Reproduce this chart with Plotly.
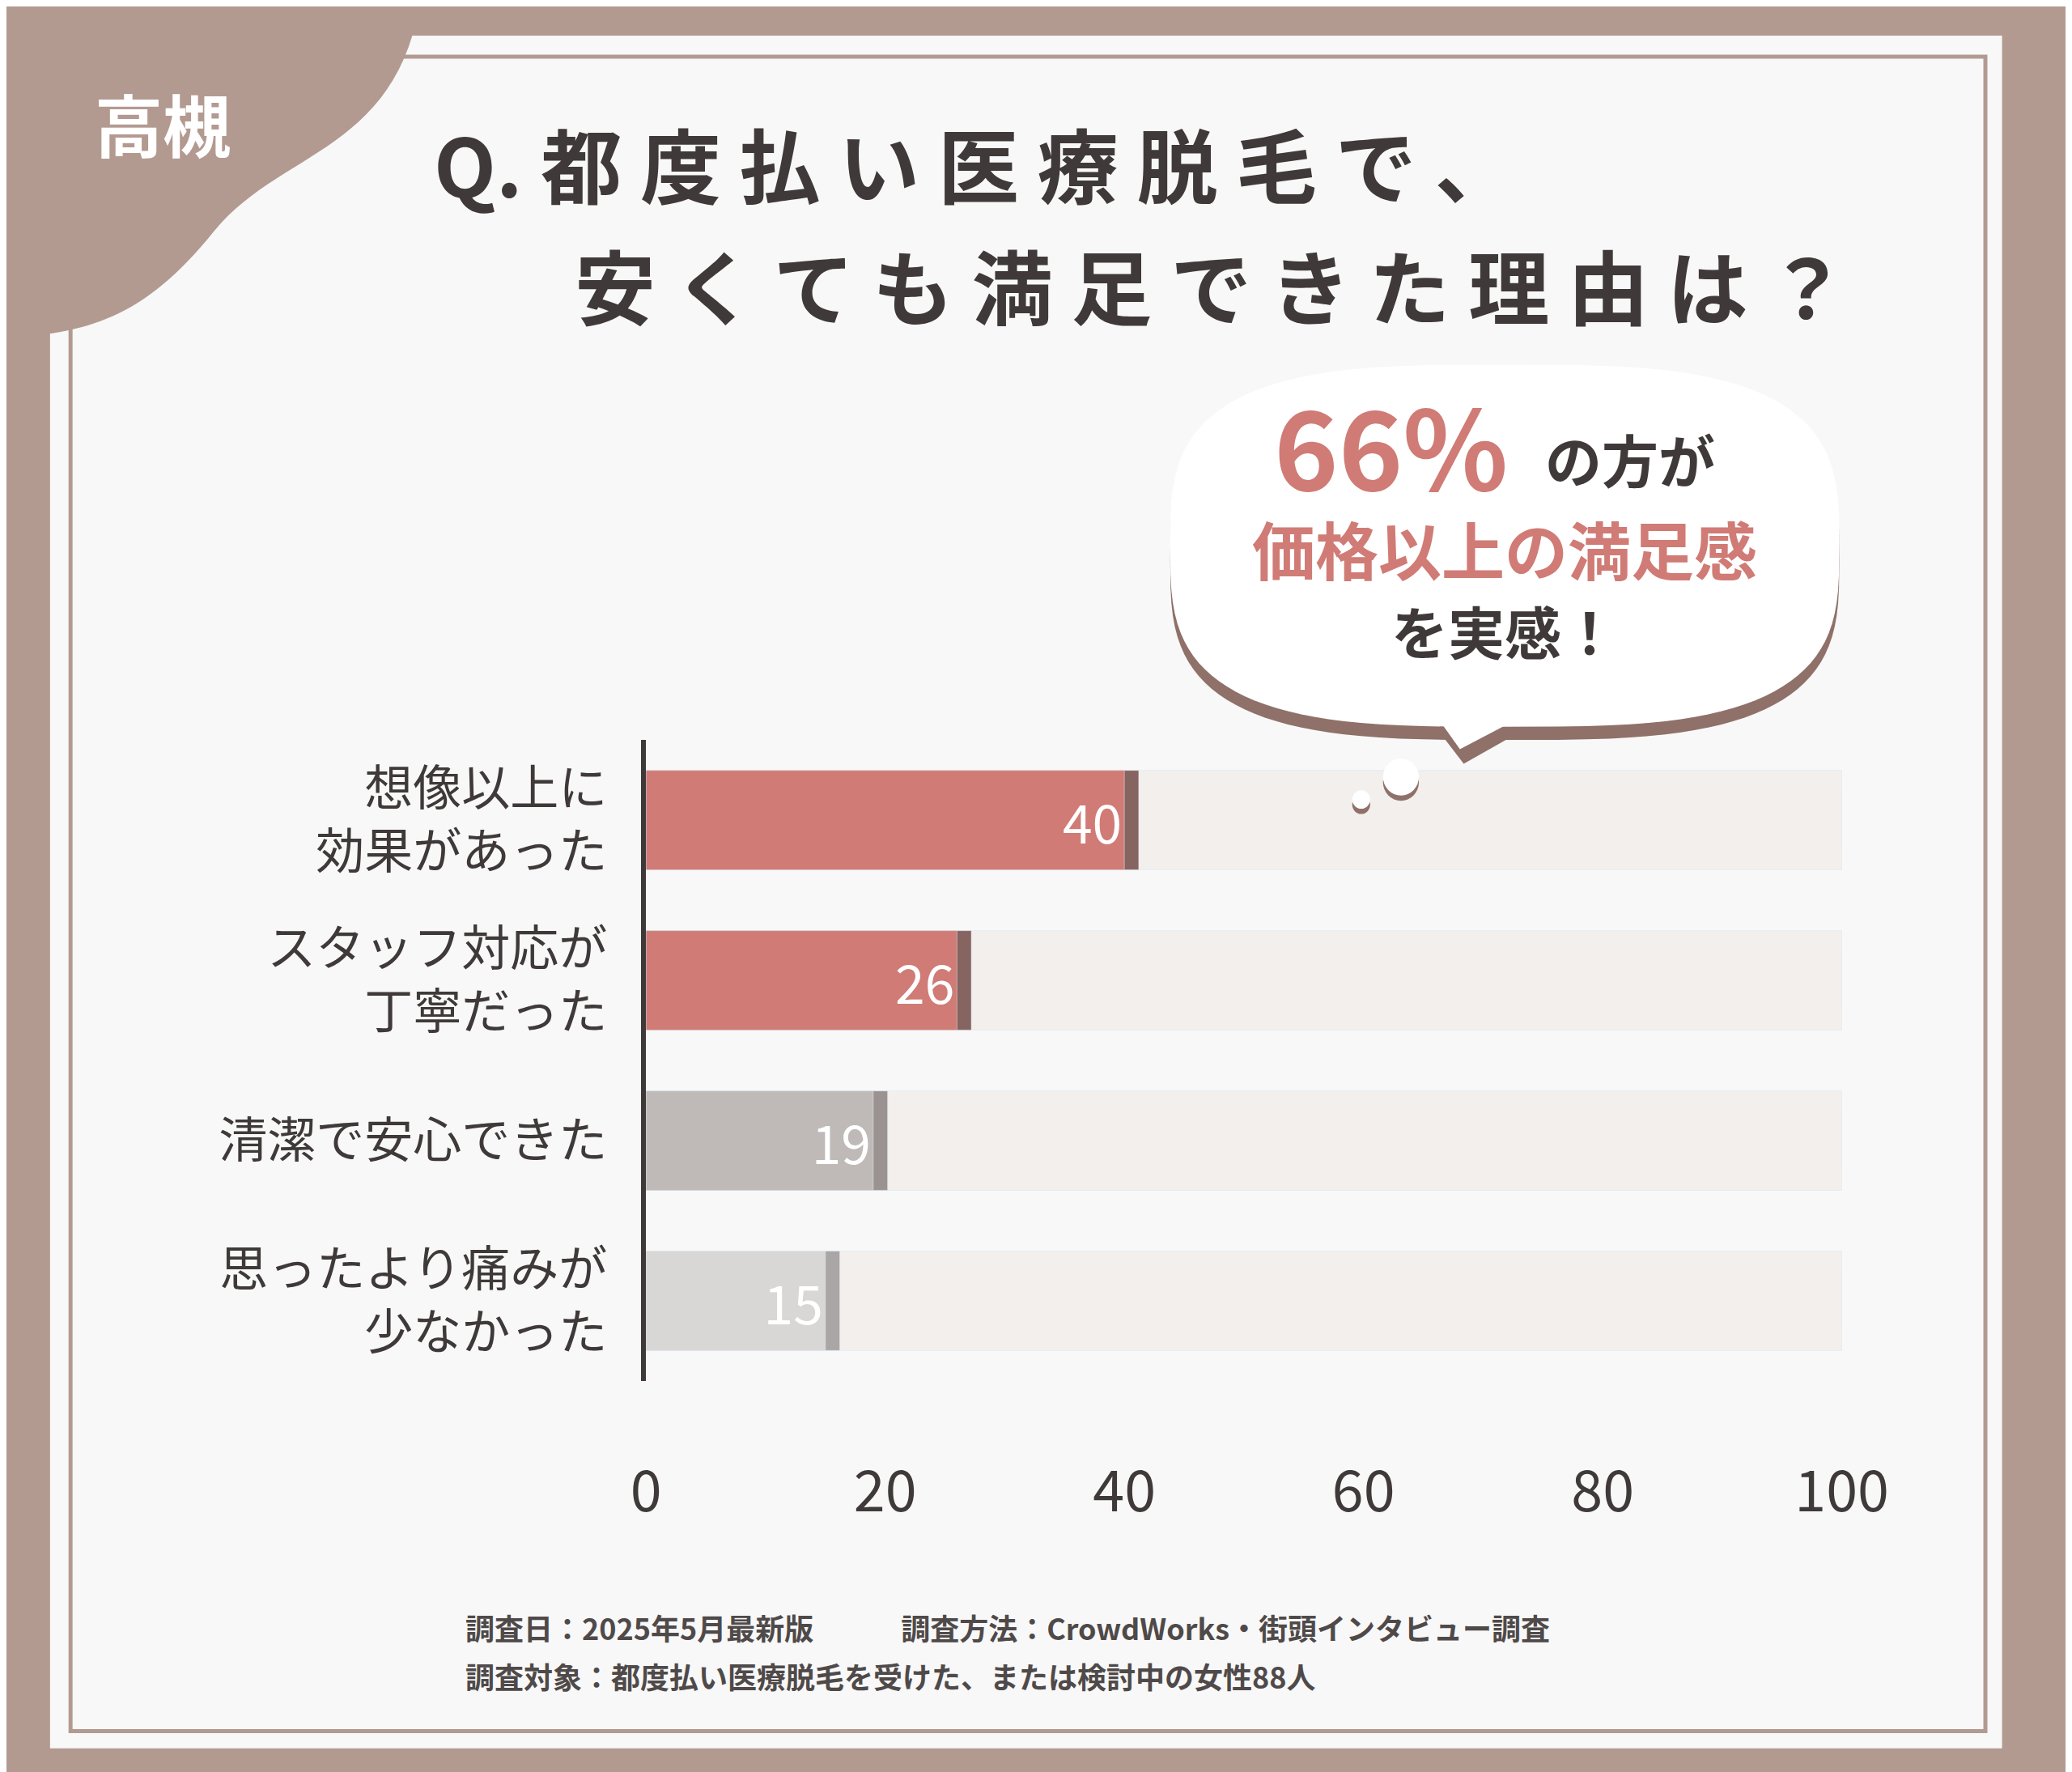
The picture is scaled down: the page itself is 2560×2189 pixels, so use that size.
import numpy as np
import plotly.graph_objects as go

categories = ["想像以上に<br>効果があった", "スタッフ対応が<br>丁寧だった", "清潔で安心できた", "思ったより痛みが<br>少なかった"]
values = [40, 26, 19, 15]
bar_colors = ["#d07b75", "#d07b75", "#bfbab8", "#d9d7d6"]
edge_colors = ["#86645f", "#86645f", "#9a9391", "#aaa6a5"]
tick_vals = [0, 20, 40, 60, 80, 100]

W, H = 2560, 2189
S = W / 1568


def P(x, y):
    # display coords -> paper coords
    return x * S / W, 1 - y * S / H


def path(points, close=True):
    s = ""
    for i, (x, y) in enumerate(points):
        px, py = P(x, y)
        s += ("M" if i == 0 else "L") + f"{px:.5f},{py:.5f} "
    return s + ("Z" if close else "")


def bezier(p0, p1, p2, p3, k=30):
    t = np.linspace(0, 1, k)[:, None]
    pts = (1 - t) ** 3 * np.array(p0) + 3 * (1 - t) ** 2 * t * np.array(p1) \
        + 3 * (1 - t) * t ** 2 * np.array(p2) + t ** 3 * np.array(p3)
    return [tuple(p) for p in pts]


def superellipse(cx, cy, rx, ry, n=3.2, k=120):
    t = np.linspace(0, 2 * np.pi, k, endpoint=False)
    c, s = np.cos(t), np.sin(t)
    x = cx + rx * np.sign(c) * np.abs(c) ** (2 / n)
    y = cy + ry * np.sign(s) * np.abs(s) ** (2 / n)
    return list(zip(x, y))


fig = go.Figure()
# shadow edge of the tracks and bars
fig.add_trace(go.Bar(y=categories, x=[100.8] * 4, orientation="h", marker_color="#dedad8",
                     width=0.62, hoverinfo="skip"))
fig.add_trace(go.Bar(y=categories, x=[100] * 4, orientation="h", marker_color="#f2efed",
                     width=0.62, hoverinfo="skip"))
fig.add_trace(go.Bar(y=categories, x=[v + 1.2 for v in values], orientation="h",
                     marker_color=edge_colors, width=0.62, hoverinfo="skip"))
fig.add_trace(go.Bar(y=categories, x=values, orientation="h", marker_color=bar_colors,
                     width=0.62, text=[str(v) for v in values], textposition="inside",
                     insidetextanchor="end",
                     textfont=dict(color="white", size=66, family="Noto Sans CJK JP")))

x0, y0 = P(487, 555)
x1, y1 = P(1420, 1040)
fig.update_layout(
    width=W, height=H, margin=dict(l=0, r=0, t=0, b=0),
    paper_bgcolor="#b39a91", plot_bgcolor="rgba(0,0,0,0)",
    barmode="overlay", bargap=0.38, showlegend=False, barcornerradius=14,
    font=dict(family="Noto Sans CJK JP", color="#3f3a39"),
    xaxis=dict(domain=[x0, x1], range=[0, 100], tickvals=tick_vals, showgrid=False,
               zeroline=False, showline=False, tickfont=dict(size=70, color="#3f3a39"),
               ticklabelstandoff=90, fixedrange=True),
    yaxis=dict(domain=[y1, y0], autorange="reversed", showgrid=False, showline=True,
               linecolor="#3f3a39", linewidth=6, ticks="", ticklabelstandoff=30,
               tickfont=dict(size=60, color="#3f3a39"), fixedrange=True),
)

shapes = []
# white panel + inner border
a, b = P(22, 22); c, d = P(1545, 1318)
shapes.append(dict(type="rect", xref="paper", yref="paper", x0=a, y0=d, x1=c, y1=b,
                   fillcolor="#f8f8f8", line_width=0, layer="below"))
a, b = P(38, 38); c, d = P(1532, 1305)
shapes.append(dict(type="rect", xref="paper", yref="paper", x0=a, y0=d, x1=c, y1=b,
                   fillcolor="rgba(0,0,0,0)", line=dict(color="#b39a91", width=5), layer="below"))
# corner blob
blob = [(0, 0), (310, 0)] + bezier((310, 0), (290, 110), (200, 110), (150, 170)) \
    + bezier((150, 170), (100, 230), (60, 245), (0, 250))
shapes.append(dict(type="path", xref="paper", yref="paper", path=path(blob),
                   fillcolor="#b39a91", line_width=0))
# speech bubble shadow + bubble
bub = superellipse(1157, 408, 261, 137)
shapes.append(dict(type="path", xref="paper", yref="paper",
                   path=path([(x, y + 10) for x, y in bub]), fillcolor="#8f716a", line_width=0, layer="below"))
shapes.append(dict(type="path", xref="paper", yref="paper",
                   path=path([(1095, 535), (1125, 573), (1185, 540)]), fillcolor="#8f716a", line_width=0, layer="below"))
shapes.append(dict(type="path", xref="paper", yref="paper", path=path(bub),
                   fillcolor="white", line_width=0, layer="below"))
shapes.append(dict(type="path", xref="paper", yref="paper",
                   path=path([(1095, 525), (1122, 562), (1185, 530)]), fillcolor="white", line_width=0, layer="below"))
for cx, cy, r in [(1076, 583, 14), (1045, 600, 7)]:
    for off, col in [(4, "#8f716a"), (0, "white")]:
        a, b = P(cx - r, cy - r + off); c, d = P(cx + r, cy + r + off)
        shapes.append(dict(type="circle", xref="paper", yref="paper", x0=a, y0=d, x1=c, y1=b,
                           fillcolor=col, line_width=0))
fig.update_layout(shapes=shapes)


def txt(x, y, text, size, color="#3f3a39", anchor="left"):
    px, py = P(x, y)
    fig.add_annotation(x=px, y=py, xref="paper", yref="paper", text=text, showarrow=False,
                       xanchor=anchor, yanchor="middle", font=dict(size=size, color=color))


txt(110, 88, "<b>高槻</b>", 84, "white", "center")
txt(320, 118, "<b>Q. 都 度 払 い 医 療 脱 毛 で 、</b>", 100)
txt(430, 210, "<b>安 く て も 満 足 で き た 理 由 は ？</b>", 100)
txt(1068, 330, "<b>66%</b>", 135, "#d07b75", "center")
txt(1255, 342, "<b>の方が</b>", 70, "#3f3a39", "center")
txt(1157, 410, "<b>価格以上の満足感</b>", 78, "#d07b75", "center")
txt(1157, 472, "<b>を実感！</b>", 70, "#3f3a39", "center")
txt(345, 1226, "<b>調査日：2025年5月最新版　　　調査方法：CrowdWorks・街頭インタビュー調査</b>", 36, "#4f4a49")
txt(345, 1263, "<b>調査対象：都度払い医療脱毛を受けた、または検討中の女性88人</b>", 36, "#4f4a49")

fig.write_html("out.html")
